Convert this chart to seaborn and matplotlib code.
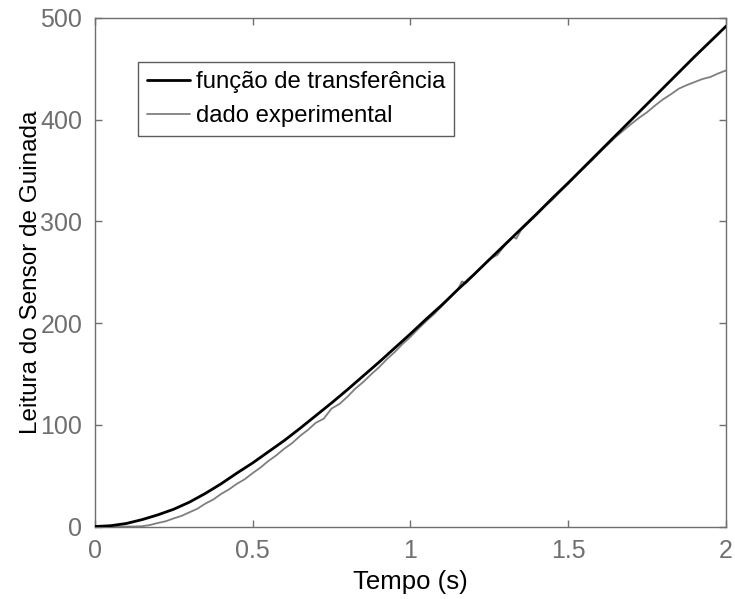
import matplotlib
matplotlib.use("Agg")
import matplotlib.pyplot as plt
import seaborn as sns
import pandas as pd

# Transfer-function response
t_tf = [0.00, 0.05, 0.10, 0.15, 0.20, 0.25, 0.30, 0.35, 0.40, 0.45,
        0.50, 0.55, 0.60, 0.65, 0.70, 0.75, 0.80, 0.85, 0.90, 0.95,
        1.00, 1.05, 1.10, 1.15, 1.20, 1.25, 1.30, 1.35, 1.40, 1.45,
        1.50, 1.55, 1.60, 1.65, 1.70, 1.75, 1.80, 1.85, 1.90, 1.95, 2.00]
y_tf = [0.0, 0.8, 3.0, 6.8, 11.5, 17.0, 24.0, 32.5, 42.0, 52.5,
        62.5, 73.5, 84.5, 96.5, 109.0, 121.5, 134.5, 148.0, 161.5, 175.5,
        189.5, 204.0, 218.0, 233.0, 247.5, 262.5, 277.5, 292.5, 307.5, 323.0,
        338.0, 353.5, 369.0, 384.5, 400.0, 415.5, 431.0, 446.5, 462.0, 477.0, 492.0]

t_exp = [0.000, 0.025, 0.050, 0.075, 0.100, 0.125, 0.150, 0.175, 0.200, 0.225,
         0.250, 0.275, 0.300, 0.325, 0.350, 0.375, 0.400, 0.425, 0.450, 0.475,
         0.500, 0.525, 0.550, 0.575, 0.600, 0.625, 0.650, 0.675, 0.700, 0.725,
         0.750, 0.775, 0.800, 0.825, 0.850, 0.875, 0.900, 0.925, 0.950, 0.975,
         1.000, 1.025, 1.050, 1.075, 1.100, 1.125, 1.150, 1.163, 1.175, 1.200,
         1.225, 1.250, 1.275, 1.300, 1.325, 1.335, 1.350, 1.375, 1.400, 1.425,
         1.450, 1.475, 1.500, 1.525, 1.550, 1.575, 1.600, 1.625, 1.650, 1.675,
         1.700, 1.725, 1.750, 1.775, 1.800, 1.825, 1.850, 1.875, 1.900, 1.925,
         1.950, 1.975, 2.000]
y_exp = [0.0, 0.0, 0.0, 0.0, 0.0, 0.0, 0.3, 1.5, 3.5, 5.2,
         8.0, 10.5, 14.0, 17.5, 22.5, 26.5, 32.0, 36.5, 42.0, 46.5,
         52.5, 58.0, 64.5, 70.0, 76.5, 82.0, 89.0, 95.0, 102.0, 106.0,
         116.0, 120.5, 127.5, 135.5, 142.0, 149.5, 156.5, 164.5, 171.5, 179.5,
         186.5, 194.5, 202.0, 209.0, 217.0, 225.0, 233.0, 241.0, 239.0, 247.0,
         255.0, 263.0, 267.0, 277.0, 285.0, 283.0, 291.5, 299.0, 306.5, 314.5,
         321.5, 329.5, 337.0, 345.0, 352.5, 360.0, 368.0, 375.5, 383.0, 389.5,
         396.0, 402.0, 407.5, 414.0, 420.0, 425.0, 430.5, 434.0, 437.0, 440.0,
         442.0, 445.5, 448.5]

labels = ["função de transferência", "dado experimental"]
x_ticks = [0, 0.5, 1, 1.5, 2]
x_tick_labels = ["0", "0.5", "1", "1.5", "2"]
y_ticks = [0, 100, 200, 300, 400, 500]

sns.set_style("white")
plt.rcParams["font.family"] = ["Liberation Sans", "DejaVu Sans"]

axis_gray = "#6f6f6f"

fig = plt.figure(figsize=(7.35, 5.99), dpi=100)
ax = fig.add_axes([0.129, 0.121, 0.859, 0.849])

df_tf = pd.DataFrame({"t": t_tf, "y": y_tf})
df_exp = pd.DataFrame({"t": t_exp, "y": y_exp})

sns.lineplot(data=df_tf, x="t", y="y", ax=ax, color="black", linewidth=2.0,
             label=labels[0], zorder=3)
sns.lineplot(data=df_exp, x="t", y="y", ax=ax, color="#7f7f7f", linewidth=1.3,
             label=labels[1], zorder=2)

ax.set_xlim(0, 2)
ax.set_ylim(0, 500)
ax.set_xticks(x_ticks)
ax.set_xticklabels(x_tick_labels)
ax.set_yticks(y_ticks)

ax.set_xlabel("Tempo (s)", fontsize=18.5, color="black", labelpad=5)
ax.set_ylabel("Leitura do Sensor de Guinada", fontsize=17.5, color="black", labelpad=-1)

for s in ax.spines.values():
    s.set_visible(True)
    s.set_color(axis_gray)
    s.set_linewidth(1.0)

ax.tick_params(axis="both", which="both", direction="in", length=5, width=1,
               colors=axis_gray, labelsize=18, top=True, right=True,
               bottom=True, left=True)
ax.tick_params(axis="y", pad=9)
ax.tick_params(axis="x", pad=9)
for lbl in ax.get_xticklabels() + ax.get_yticklabels():
    lbl.set_color(axis_gray)

leg = ax.legend(loc="upper left", bbox_to_anchor=(0.068, 0.913), fontsize=17.2,
                frameon=True, fancybox=False, borderpad=0.38, handlelength=1.8,
                handletextpad=0.25, labelspacing=0.5, borderaxespad=0)
leg.get_frame().set_edgecolor("#333333")
leg.get_frame().set_linewidth(1.0)
for txt in leg.get_texts():
    txt.set_color("black")

fig.savefig("out.png", dpi=100)
